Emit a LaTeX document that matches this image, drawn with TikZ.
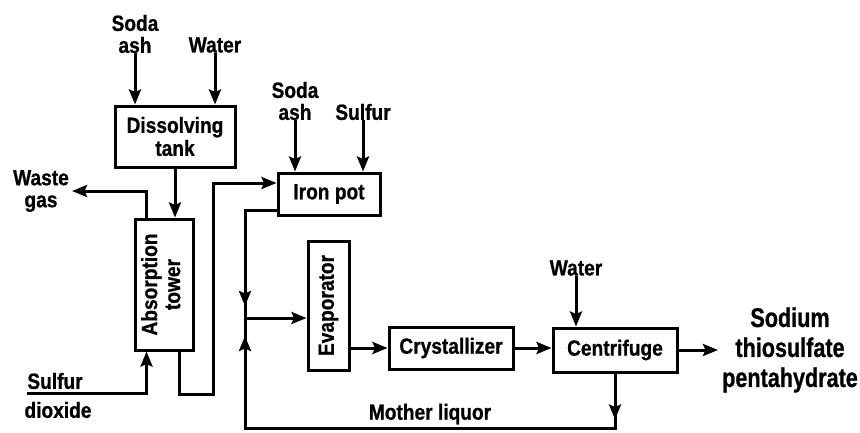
\documentclass[tikz,border=0pt]{standalone}
\usepackage{fontspec}
\usepackage{graphicx}
\newfontfamily\dfont{Liberation Sans}[FakeStretch=0.87,BoldFeatures={FakeBold=0.8}]
\newfontfamily\pfont{Liberation Sans}[FakeStretch=0.8,BoldFeatures={FakeBold=0.8}]
\usetikzlibrary{arrows.meta,decorations.markings}
\begin{document}
\begin{tikzpicture}[x=1pt,y=-1pt,
  flowline/.style={line width=3pt},
  flowarrow/.style={line width=3pt,-{Stealth[length=15pt,width=12pt,inset=2.5pt]}},
  box/.style={draw,line width=3pt,inner sep=0pt,align=center,font=\dfont\bfseries\fontsize{22}{23}\selectfont},
  lbl/.style={inner sep=0pt,align=center,font=\dfont\bfseries\fontsize{22}{22}\selectfont},
  prod/.style={inner sep=0pt,align=center,font=\pfont\bfseries\fontsize{27}{30}\selectfont}]
\useasboundingbox (0,0) rectangle (860,432);

% boxes
\node[box,minimum width=120pt,minimum height=61pt] (dissolve) at (175,136.5) {Dissolving\\tank};
\node[box,minimum width=58pt,minimum height=131pt] (tower) at (164,284.5)
  {\rotatebox{90}{\begin{tabular}{@{}c@{}}Absorption\\tower\end{tabular}}};
\node[box,minimum width=102pt,minimum height=42pt] (ironpot) at (329,194) {Iron pot};
\node[box,minimum width=41pt,minimum height=129pt] (evap) at (328.5,305.5) {\rotatebox{90}{Evaporator}};
\node[box,minimum width=124pt,minimum height=42pt] (cryst) at (451,348) {Crystallizer};
\node[box,minimum width=124pt,minimum height=44pt] (centri) at (615,350) {Centrifuge};

% labels
\node[lbl] (sa1) at (135,34) {Soda\\ash};
\node[lbl] (water1) at (215,45) {Water};
\node[lbl] (sa2) at (295,101) {Soda\\ash};
\node[lbl] (sulfur2) at (363,112) {Sulfur};
\node[lbl] (waste) at (41,191) {Waste\\gas};
\node[lbl] (so2a) at (55,381) {Sulfur};
\node[lbl] (so2b) at (58,410) {dioxide};
\node[lbl] (water3) at (576,268) {Water};
\node[lbl] (mother) at (430,414) {Mother liquor};
\node[prod] (product) at (790,350) {Sodium\\thiosulfate\\pentahydrate};

\coordinate (so2) at (27,393);
\coordinate (jn) at (245,318);
\coordinate (jbot) at (245,428);

% feeds
\draw[flowarrow] (sa1.south) -- (sa1.south |- dissolve.north);
\draw[flowarrow] (water1.south) -- (water1.south |- dissolve.north);
\draw[flowarrow] (sa2.south) -- (sa2.south |- ironpot.north);
\draw[flowarrow] (sulfur2.south) -- (sulfur2.south |- ironpot.north);
\draw[flowarrow] (water3.south) -- (water3.south |- centri.north);

% dissolving tank to tower
\draw[flowarrow] (dissolve.south) -- (dissolve.south |- tower.north);
% waste gas
\draw[flowarrow] ([xshift=13pt]tower.north west) |- ([xshift=3pt]waste.east);
% sulfur dioxide
\draw[flowarrow] (so2) -| ([xshift=13pt]tower.south west);
% tower outlet to iron pot
\draw[flowarrow] ([xshift=-15pt]tower.south east) -- ++(0,43) -- ++(34,0) |- ([yshift=11pt]ironpot.west);
% iron pot outlet down to junction
\draw[flowline,postaction={decorate},decoration={markings,
  mark=at position -12pt with {\arrow{Stealth[length=15pt,width=12pt,inset=2.5pt]}}}]
  ([yshift=-16pt]ironpot.west) -| (jn);
% mother liquor recycle
\draw[flowline,postaction={decorate},decoration={markings,
  mark=at position 46pt with {\arrow{Stealth[length=15pt,width=12pt,inset=2.5pt]}},
  mark=at position -18pt with {\arrow{Stealth[length=15pt,width=12pt,inset=2.5pt]}}}]
  (centri.south) |- (jbot) -- (jn);
% junction to evaporator
\draw[flowarrow] (jn) -- (jn -| evap.west);
% main line
\draw[flowarrow] (cryst.west -| evap.east) -- (cryst.west);
\draw[flowarrow] (cryst.east) -- (cryst.east -| centri.west);
\draw[flowarrow] (centri.east) -- ([xshift=-4pt]product.west);
\end{tikzpicture}
\end{document}
